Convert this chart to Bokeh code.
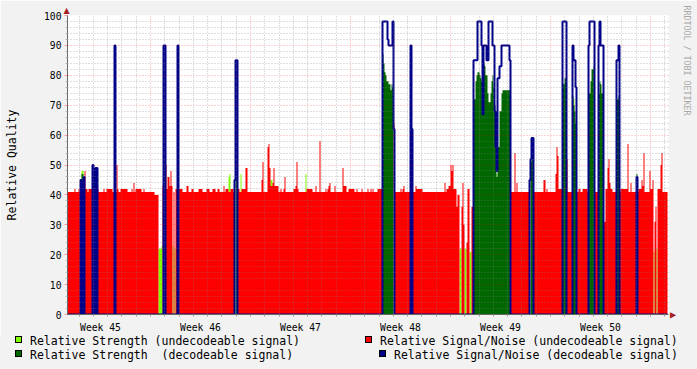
import numpy as np
from bokeh.plotting import figure
from bokeh.layouts import column
from bokeh.models import Range1d, FixedTicker, Grid, Title, Div
from bokeh.embed import file_html
from bokeh.resources import INLINE

# ---------------- data ----------------
# one sample = 1/100 week (about 1.7 h); 600 samples = 6 weeks
N_SAMPLES = 600
week_labels = ["Week 45", "Week 46", "Week 47", "Week 48", "Week 49", "Week 50"]
week_label_pos = [33, 133, 233, 333, 433, 533]
week_starts = [83, 183, 283, 383, 483, 583]
samples_per_day = 100 / 7

# Relative Signal/Noise (undecodeable): typical level and deviations (first, last, value; None = no data)
red_base = 41
red_overrides = [
    (7, 7, 42), (11, 11, 42), (17, 17, 48), (18, 19, 42), (21, 24, 42), (30, 30, 42),
    (36, 36, 42), (39, 44, 42), (49, 49, 50), (50, 50, 42), (53, 59, 42), (64, 64, 42),
    (66, 66, 44), (68, 73, 42), (76, 76, 42), (87, 90, 40), (91, 94, None), (95, 95, 43),
    (98, 98, 50), (99, 99, 42), (100, 101, 46), (102, 102, 43), (103, 103, 48), (104, 104, 43),
    (105, 105, None), (107, 107, None), (108, 109, 42), (111, 114, 42), (119, 120, 43),
    (124, 125, 42), (131, 134, 42), (139, 141, 42), (145, 147, 42), (150, 151, 42),
    (156, 156, 43), (158, 160, 42), (163, 165, 42), (170, 171, 42), (174, 177, 42),
    (178, 179, 49), (194, 194, 45), (195, 195, 51), (200, 200, 56), (201, 201, 57),
    (202, 202, 49), (203, 204, 43), (205, 205, 44), (206, 206, 49), (207, 210, 43),
    (213, 213, 42), (216, 216, 42), (217, 217, 46), (226, 227, 42), (228, 228, 43),
    (229, 229, 51), (230, 230, 42), (239, 244, 42), (248, 248, 43), (252, 252, 58),
    (258, 258, 42), (260, 260, 42), (261, 261, 43), (262, 262, 44), (267, 267, 43),
    (275, 275, 49), (276, 278, 43), (281, 286, 42), (289, 289, 42), (294, 294, 42),
    (300, 300, 42), (303, 303, 42), (305, 305, 42), (310, 314, 42), (326, 326, 64),
    (333, 333, 42), (335, 335, 42), (336, 336, 43), (348, 348, 43), (349, 354, 42),
    (377, 377, 44), (379, 380, 42), (381, 382, 43), (383, 383, 50), (384, 384, 48),
    (385, 385, 50), (386, 388, 42), (389, 389, 36), (390, 391, 40), (392, 393, None),
    (394, 394, 36), (395, 395, 44), (396, 396, 30), (397, 398, None), (399, 399, 24),
    (400, 401, 42), (402, 403, None), (404, 405, 36), (447, 447, 54), (449, 449, 44),
    (476, 477, 45), (479, 479, 42), (488, 488, 47), (489, 489, 56), (490, 490, 53),
    (491, 494, 42), (499, 499, 52), (511, 512, 42), (515, 519, 42), (536, 537, 31),
    (538, 539, 42), (540, 540, 49), (541, 541, 52), (542, 542, 44), (543, 544, 42),
    (553, 559, 42), (560, 560, 57), (563, 563, 44), (571, 573, 42), (574, 574, 45),
    (575, 575, 43), (576, 576, 54), (582, 582, 48), (583, 584, 42), (585, 585, 45),
    (586, 586, None), (587, 587, 31), (588, 588, 36), (589, 589, None), (590, 592, 42),
    (593, 593, 50), (594, 594, 54),
]

# Relative Strength (undecodeable): only where measured (first, last, value)
strength_undec = [
    (14, 15, 48), (26, 27, 47), (91, 93, 22), (94, 94, 23), (105, 105, 23), (107, 107, 22),
    (161, 161, 46), (162, 162, 47), (173, 173, 47), (203, 204, 45), (238, 238, 47),
    (392, 393, 22), (397, 398, 22), (402, 403, 21), (429, 429, 47), (506, 506, 72),
    (586, 586, 21), (589, 589, 22),
]

# decodeable periods: (first sample, Signal/Noise values, Strength values)
dec_starts = [13, 25, 47, 96, 110, 167, 315, 343, 406, 462, 495, 505, 521, 531, 549, 569]
dec_snr = [
    [45, 0, 0, 46],
    [50, 0, 0, 49, 49],
    [90],
    [90, 90],
    [90],
    [45, 85, 85],
    [98, 98, 98, 98, 98, 92, 90, 90, 90, 90, 98, 62],
    [90, 62],
    [85, 85, 85, 85, 98, 98, 98, 98, 90, 67, 90, 90, 90, 85, 85, 98, 98, 98, 98, 90, 90,
     68, 56, 48, 79, 79, 83, 83, 90, 90, 90, 90, 90, 90, 90, 90, 85],
    [45, 52, 59, 59],
    [98, 98, 98, 98],
    [90, 85, 85, 76],
    [90, 98, 98, 98, 98, 98],
    [90, 98, 90, 90, 90],
    [85, 85, 90],
    [46],
]
dec_strength = [
    [None, 47, 47, None],
    [None, 44, 44, None, None],
    [None],
    [77, 77],
    [None],
    [None, 81, 81],
    [87, 84, 81, 80, 78, 78, 77, 77, 75, 77, 76, None],
    [None, None],
    [72, 72, 78, 80, 81, 81, 80, 79, 78, 78, 84, 83, 80, 80, 74, 71, 71, 74, 78, 80, 76,
     70, 60, 46, 56, 56, 68, 68, 74, 75, 75, 75, 75, 75, 75, 75, 75],
    [None, 51, 52, 52],
    [77, 77, 79, 79],
    [73, 70, 68, 64],
    [74, 74, 78, 82, 82, 83],
    [74, 78, 77, 74, 74],
    [72, 72, 73],
    [47],
]

legend_labels = ["Relative Strength (undecodeable signal)",
                 "Relative Strength  (decodeable signal)",
                 "Relative Signal/Noise (undecodeable signal)",
                 "Relative Signal/Noise (decodeable signal)"]

# ---------------- build series ----------------
red = np.full(N_SAMPLES, float(red_base))
lg = np.full(N_SAMPLES, np.nan)
dg = np.full(N_SAMPLES, np.nan)
blue = np.zeros(N_SAMPLES)
for start, snr, stg in zip(dec_starts, dec_snr, dec_strength):
    for k, (s, g) in enumerate(zip(snr, stg)):
        i = start + k
        red[i] = np.nan
        blue[i] = s
        if g is not None:
            dg[i] = g
for a, b, v in red_overrides:
    red[a:b + 1] = np.nan if v is None else v
for a, b, v in strength_undec:
    lg[a:b + 1] = v


def ext(arr):
    a = np.nan_to_num(arr, nan=0.0)
    return np.append(a, a[-1])


xs = np.arange(N_SAMPLES + 1)
zeros = np.zeros(N_SAMPLES + 1)

C_LG = "#80FF00"
C_DG = "#006600"
C_RED = "#FF0000"
C_BLUE = "#000088"
C_ARROW = "#A52020"
FONT = "DejaVu Sans Mono"
BG = "#F2F2F2"

p = figure(width=697, height=335, output_backend="svg", toolbar_location=None,
           x_range=Range1d(0, 601), y_range=Range1d(0, 100),
           min_border_left=67, min_border_right=29, min_border_top=15, min_border_bottom=20)
p.background_fill_color = "white"
p.border_fill_color = BG
p.outline_line_color = None
p.xgrid.visible = False
p.ygrid.visible = False

p.varea_step(x=xs, y1=zeros, y2=ext(lg), step_mode="after", fill_color=C_LG)
p.varea_step(x=xs, y1=zeros, y2=ext(red), step_mode="after", fill_color=C_RED)
p.varea_step(x=xs, y1=zeros, y2=ext(dg), step_mode="after", fill_color=C_DG)
p.step(x=xs, y=ext(blue), mode="after", line_color=C_BLUE, line_width=2)

# grids
day_lines = [week_starts[0] + k * samples_per_day for k in range(-5, 37)]
day_lines = [d for d in day_lines if 0 < d < 601]
day_minor = [d for d in day_lines if all(abs(d - w) > 0.5 for w in week_starts)]
yminor = [v for v in range(2, 100, 2) if v % 10]
ymajor = list(range(10, 101, 10))
for dim, ticks, col, alpha in [(0, day_minor, "#808080", 0.5), (1, yminor, "#808080", 0.5),
                               (0, week_starts, "#FF0000", 0.35), (1, ymajor, "#FF0000", 0.35)]:
    g = Grid(dimension=dim, ticker=FixedTicker(ticks=ticks), grid_line_color=col,
             grid_line_alpha=alpha, grid_line_dash="1 2", level="guide")
    p.add_layout(g)

# axes
xa = p.xaxis[0]
xa.ticker = FixedTicker(ticks=week_label_pos, minor_ticks=day_lines)
xa.major_label_overrides = {pos: lab for pos, lab in zip(week_label_pos, week_labels)}
xa.major_tick_line_color = None
xa.major_tick_out = 0
xa.major_tick_in = 0
xa.minor_tick_out = 2
xa.minor_tick_in = 0
xa.minor_tick_line_color = "#999999"
xa.axis_line_color = "#666666"
xa.major_label_text_font = FONT
xa.major_label_text_font_size = "9.7px"
xa.major_label_text_color = "#000000"
xa.major_label_standoff = 5

ya = p.yaxis[0]
ya.ticker = FixedTicker(ticks=list(range(0, 101, 10)), minor_ticks=yminor)
ya.major_tick_out = 3
ya.major_tick_in = 0
ya.major_tick_line_color = "#FF0000"
ya.major_tick_line_alpha = 0.35
ya.minor_tick_out = 2
ya.minor_tick_in = 0
ya.minor_tick_line_color = "#BBBBBB"
ya.axis_line_color = "#666666"
ya.major_label_text_font = FONT
ya.major_label_text_font_size = "9.7px"
ya.major_label_text_color = "#000000"
ya.major_label_standoff = 3
ya.axis_label = "Relative Quality"
ya.axis_label_text_font = FONT
ya.axis_label_text_font_size = "11.5px"
ya.axis_label_text_font_style = "normal"
ya.axis_label_text_color = "#000000"
ya.axis_label_standoff = 22

# axis arrow heads and side credit (titles live outside the frame)
p.add_layout(Title(text="\u25B2", align="left", offset=-4, standoff=2, text_font="DejaVu Sans",
                   text_font_size="8px", text_font_style="normal", text_color=C_ARROW), "above")
p.add_layout(Title(text="\u25B2", align="right", offset=-4, standoff=0, text_font="DejaVu Sans",
                   text_font_size="8px", text_font_style="normal", text_color=C_ARROW), "right")
p.add_layout(Title(text="RRDTOOL / TOBI OETIKER", align="left", text_font=FONT,
                   text_font_size="8.3px", text_font_style="normal", text_color="#A8A8A8",
                   offset=-10, standoff=4), "right")

# legend strip below the plot
legend_colors = [C_LG, C_DG, C_RED, C_BLUE]
box_left = [15, 15, 365, 379]
text_left = [30, 30, 380, 394]
box_top = [1, 15, 1, 15]
text_top = [-1.5, 12.5, -1.5, 12.5]
parts = []
for lab, col, bl, tl, bt, tt in zip(legend_labels, legend_colors, box_left, text_left, box_top, text_top):
    parts.append(f'<span style="position:absolute;left:{bl}px;top:{bt}px;width:7px;height:7px;'
                 f'background:{col};border:1px solid #000;"></span>')
    parts.append(f'<span style="position:absolute;left:{tl}px;top:{tt}px;line-height:14px;'
                 f'white-space:pre;">{lab}</span>')
html = (f'<div style="position:relative;width:697px;height:34px;background:{BG};'
        f'font-family:\'{FONT}\';font-size:11.5px;color:#000;overflow:hidden;">'
        + "".join(parts) + '</div>')
leg = Div(text=html, width=697, height=34, margin=0, styles={"background-color": BG})

layout = column(p, leg, spacing=0)
open("out.html", "w").write(file_html(layout, INLINE))
